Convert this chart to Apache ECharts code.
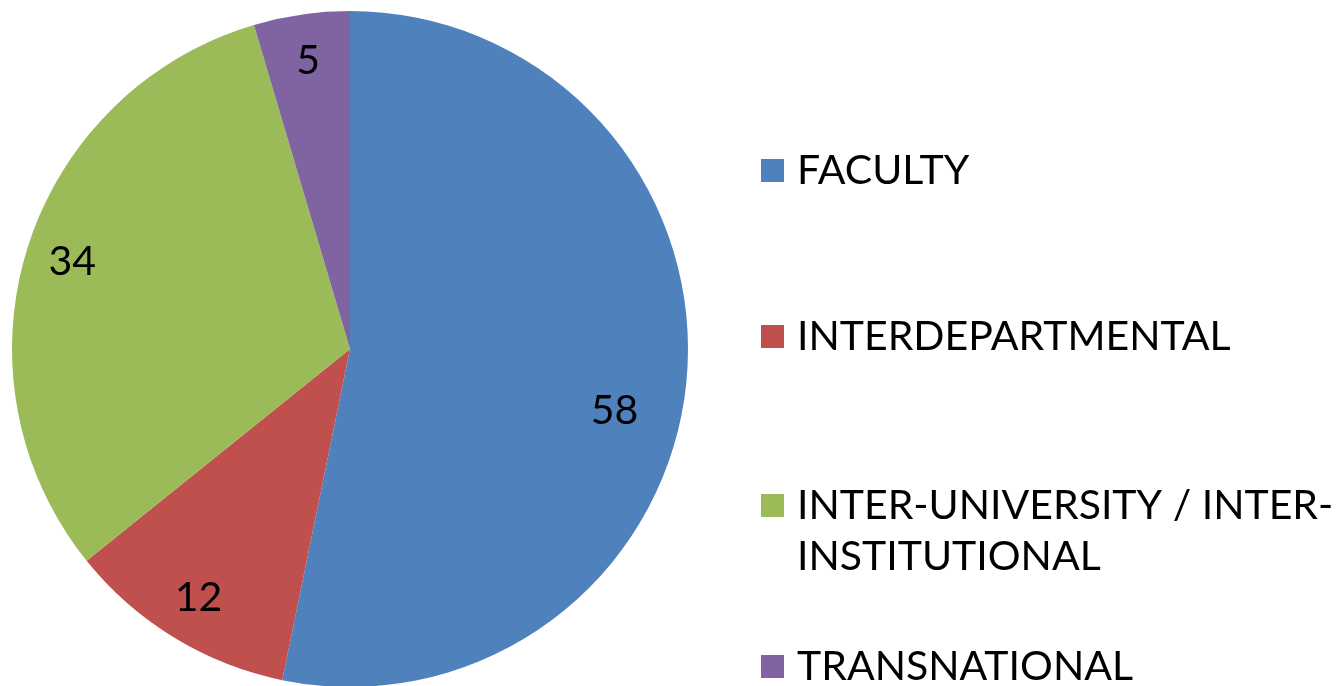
<!DOCTYPE html>
<html>
<head>
<meta charset="utf-8">
<script src="https://cdn.jsdelivr.net/npm/echarts@6/dist/echarts.min.js"></script>
<style>html,body{margin:0;padding:0;background:#fff;}#c{width:1340px;height:686px;}</style>
</head>
<body>
<div id="c"></div>
<script>
const categories = ['FACULTY', 'INTERDEPARTMENTAL', 'INTER-UNIVERSITY / INTER-INSTITUTIONAL', 'TRANSNATIONAL'];
const legendLabels = ['FACULTY', 'INTERDEPARTMENTAL', 'INTER-UNIVERSITY / INTER-\nINSTITUTIONAL', 'TRANSNATIONAL'];
const values = [58, 12, 34, 5];
const colors = ['#4F81BD', '#C0504D', '#9BBB59', '#8064A2'];

const FONT = 'Lato';
const FS = 41;
const LH = 51;
const legendTops = [140, 306, 424, 636];

const chart = echarts.init(document.getElementById('c'), null, {renderer: 'canvas'});
const pieData = categories.map((n, i) => ({name: n, value: values[i], itemStyle: {color: colors[i]}}));
const labelData = categories.map((n, i) => ({name: n, value: values[i]}));

const legends = categories.map((n, i) => {
  const multi = legendLabels[i].indexOf('\n') >= 0;
  return {
    orient: 'vertical',
    left: 756,
    top: legendTops[i],
    icon: 'rect',
    itemWidth: 23,
    itemHeight: 23,
    itemGap: 0,
    selectedMode: false,
    data: [{name: n, itemStyle: {color: colors[i]}}],
    // a leading blank line keeps the icon level with the first text line
    formatter: () => (multi ? ' \n' : '') + legendLabels[i],
    textStyle: {
      fontFamily: FONT, fontSize: FS, color: '#000', lineHeight: LH,
      padding: [0, 0, 0, 8]
    }
  };
});

chart.setOption({
  backgroundColor: '#fff',
  animation: false,
  legend: legends,
  series: [
    {
      type: 'pie',
      center: [350, 349],
      radius: [0, 338],
      startAngle: 90,
      clockwise: true,
      silent: true,
      label: {show: false},
      labelLine: {show: false},
      itemStyle: {borderWidth: 0},
      data: pieData
    },
    {
      type: 'pie',
      center: [350, 349],
      radius: [238, 338],
      startAngle: 90,
      clockwise: true,
      silent: true,
      z: 3,
      itemStyle: {color: 'rgba(0,0,0,0)', borderWidth: 0},
      label: {
        show: true, position: 'inside', formatter: '{c}',
        fontFamily: FONT, fontSize: FS, color: '#000'
      },
      labelLayout: p => (p.dataIndex === 0 ? {dx: -25, dy: 32} : {}),
      labelLine: {show: false},
      data: labelData
    }
  ]
});
</script>
</body>
</html>
